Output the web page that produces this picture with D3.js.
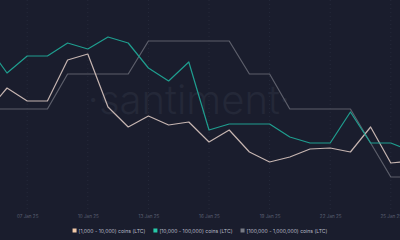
<!DOCTYPE html>
<html>
<head>
<meta charset="utf-8">
<script src="https://cdn.jsdelivr.net/npm/d3@7"></script>
<style>
  html, body { margin: 0; padding: 0; background: #1a1d2d; }
  svg { display: block; }
</style>
</head>
<body>
<div id="chart"></div>
<script>
// daily points, 05 Jan 25 .. 26 Jan 25 (edges clipped by the view)
const days = d3.range(5, 27).map(d => new Date(Date.UTC(2025, 0, d)));

// relative holder share per cohort (no y axis shown, arbitrary units)
const small = [98, 122, 109, 109, 150, 156, 103, 83, 94, 85, 88, 68, 80, 58, 48, 53, 61, 62, 58, 83, 47, 49];
const medium = [165, 137, 154, 154, 167, 161, 173, 167, 142, 129, 148, 80, 86, 86, 86, 73, 67, 67, 98, 67, 67, 59];
const large = [101, 101, 101, 101, 136, 136, 136, 136, 169, 169, 169, 169, 169, 136, 136, 101, 101, 101, 101, 67, 33, 33];

const tickDays = [7, 10, 13, 16, 19, 22, 25].map(d => new Date(Date.UTC(2025, 0, d)));
const seriesNames = ['[1,000 - 10,000) coins (LTC)', '[10,000 - 100,000) coins (LTC)', '[100,000  - 1,000,000) coins (LTC)'];
const seriesColors = ['#c6b5b1', '#1f9e8f', '#5d5f6b'];
const legendSwatch = ['#f2c9a8', '#27c9a8', '#777a84'];

const width = 400, height = 240;
const plotH = 210;

const svg = d3.select('#chart')
    .append('svg')
    .attr('width', width)
    .attr('height', height);

svg.append('rect')
    .attr('width', width)
    .attr('height', height)
    .attr('fill', '#1a1d2d');

const x = d3.scaleUtc()
    .domain([new Date(Date.UTC(2025, 0, 5, 15, 40)), new Date(Date.UTC(2025, 0, 25, 10, 55))])
    .range([0, width]);

const y = d3.scaleLinear()
    .domain([0, plotH])
    .range([plotH, 0]);

// faint dotted verticals at the date ticks
svg.append('g')
    .selectAll('line')
    .data(tickDays)
    .enter().append('line')
    .attr('x1', d => x(d))
    .attr('x2', d => x(d))
    .attr('y1', 0)
    .attr('y2', plotH)
    .attr('stroke', '#262a3b')
    .attr('stroke-width', 1)
    .attr('stroke-dasharray', '1,3');

// watermark
svg.append('text')
    .attr('x', 189)
    .attr('y', 114)
    .attr('text-anchor', 'middle')
    .style('font-family', 'Inter, "Open Sans", sans-serif')
    .style('font-size', '40px')
    .style('font-weight', 300)
    .style('fill', '#242838')
    .text('·santiment·');

svg.append('clipPath')
    .attr('id', 'clip')
    .append('rect')
    .attr('width', width)
    .attr('height', plotH);

const line = d3.line()
    .x((d, i) => x(days[i]))
    .y(d => y(d));

const plot = svg.append('g').attr('clip-path', 'url(#clip)');

[large, small, medium].forEach((vals, k) => {
    const idx = [2, 0, 1][k];
    plot.append('path')
        .datum(vals)
        .attr('fill', 'none')
        .attr('stroke', seriesColors[idx])
        .attr('stroke-width', 1.2)
        .attr('stroke-linejoin', 'round')
        .attr('d', line);
});

// x axis labels
const xAxis = svg.append('g')
    .attr('transform', `translate(0,${plotH})`)
    .call(d3.axisBottom(x)
        .tickValues(tickDays)
        .tickSize(0)
        .tickPadding(5)
        .tickFormat(d3.utcFormat('%d %b %y')));
xAxis.select('.domain').remove();
xAxis.selectAll('text')
    .style('font-family', 'Inter, sans-serif')
    .style('font-size', '4.6px')
    .style('fill', '#5b6073');

// legend, laid out left to right and centred
const legend = svg.append('g');
let cursor = 0;
seriesNames.forEach((name, i) => {
    legend.append('rect')
        .attr('x', cursor)
        .attr('y', 228.5)
        .attr('width', 4)
        .attr('height', 4)
        .attr('fill', legendSwatch[i]);
    const t = legend.append('text')
        .attr('x', cursor + 6)
        .attr('y', 232.6)
        .style('font-family', 'Inter, sans-serif')
        .style('font-size', '5.1px')
        .style('fill', '#b9bcc8')
        .text(name);
    cursor += 6 + t.node().getComputedTextLength() + 8;
});
cursor -= 8;
legend.attr('transform', `translate(${(width - cursor) / 2},0)`);
</script>
</body>
</html>
